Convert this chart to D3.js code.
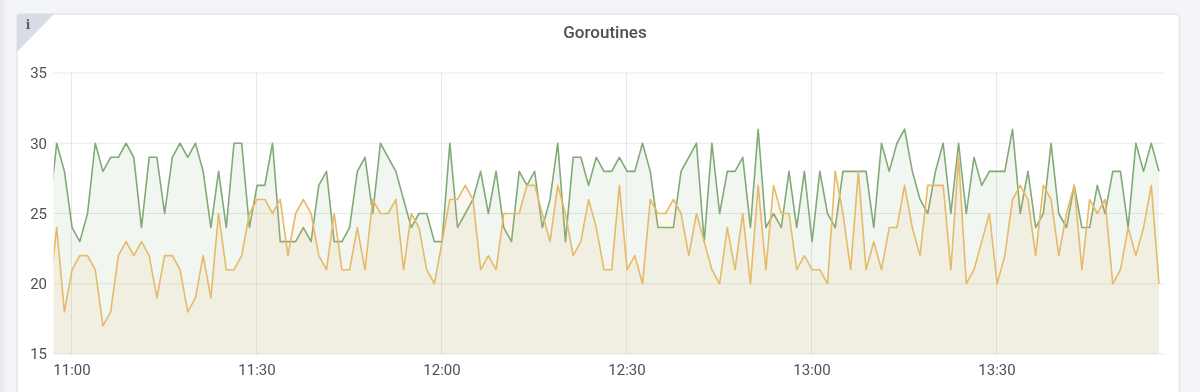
<!DOCTYPE html>
<html>
<head>
<meta charset="utf-8">
<script src="https://cdn.jsdelivr.net/npm/d3@7"></script>
<style>
html,body{margin:0;padding:0;background:#f4f5f8;overflow:hidden;}
#chart{display:block;width:1200px;height:392px;overflow:hidden;filter:blur(0.4px);}
text{font-family:Roboto,sans-serif;}
</style>
</head>
<body>
<svg id="chart" width="1200" height="392"></svg>
<script>
const goroutinesGreen = [25,30,28,24,23,25,30,28,29,29,30,29,24,29,29,25,29,30,29,30,28,24,28,24,30,30,24,27,27,30,23,23,
23,24,23,27,28,23,23,24,28,29,25,30,29,28,26,24,25,25,23,23,30,24,25,26,28,25,28,24,23,28,27,28,24,26,30,23,29,29,27,
29,28,28,29,28,28,30,28,24,24,24,28,29,30,23,30,25,28,28,29,24,31,24,25,24,28,24,28,23,28,25,24,28,28,28,28,24,30,28,
30,31,28,26,25,28,30,25,30,25,29,27,28,28,28,31,25,28,24,25,30,25,24,27,24,24,27,25,28,28,24,30,28,30,28];
const goroutinesOrange = [19,24,18,21,22,22,21,17,18,22,23,22,23,22,19,22,22,21,18,19,22,19,25,21,21,22,25,26,26,25,26,22,
25,26,25,22,21,25,21,21,24,21,26,25,25,26,21,25,24,21,20,23,26,26,27,26,21,22,21,25,25,25,27,27,25,23,27,25,22,23,26,
24,21,21,27,21,22,20,26,25,25,26,25,22,25,23,21,20,24,21,25,20,27,21,27,25,25,21,22,21,21,20,28,25,21,28,21,23,21,24,
24,27,24,22,27,27,27,21,29,20,21,23,25,20,22,26,27,26,22,27,26,22,25,27,21,26,25,26,20,21,24,22,24,27,20];
const yTickValues = [15,20,25,30,35];
const xTickLabels = ["11:00","11:30","12:00","12:30","13:00","13:30"];
const firstSample = "10:56:21";
const sampleSeconds = 75;
const colors = {green:"#80aa76", orange:"#e5ba68"};

const parse = d3.timeParse("%H:%M:%S");
const parseTick = d3.timeParse("%H:%M");
const t0 = parse(firstSample);
const times = goroutinesGreen.map((_, i) => d3.timeSecond.offset(t0, i * sampleSeconds));

const plotLeft = 53.7, plotRight = 1159, plotTop = 73, plotBottom = 354;
const x = d3.scaleTime()
  .domain([parseTick("11:00"), parseTick("13:30")])
  .range([71.5, 996.5]);
const y = d3.scaleLinear().domain([15,35]).range([plotBottom, plotTop]);

const svg = d3.select("#chart");
svg.append("rect").attr("width",1200).attr("height",392).attr("fill","#f4f5f8");
const defs = svg.append("defs");
const sg = defs.append("linearGradient").attr("id","side");
sg.append("stop").attr("offset",0).attr("stop-color","#e6e7ec");
sg.append("stop").attr("offset",1).attr("stop-color","#f4f5f8");
svg.append("rect").attr("x",0).attr("y",0).attr("width",8).attr("height",392).attr("fill","url(#side)");

const panel = svg.append("g");
panel.append("rect").attr("x",17).attr("y",14).attr("width",1162.5).attr("height",400)
  .attr("rx",3).attr("fill","#fff").attr("stroke","#e4e6ea").attr("stroke-width",1.5);
panel.append("path").attr("d","M17,52 L17,17 Q17,14 20,14 L54,14 Z").attr("fill","#d8dce5");
panel.append("text").attr("x",28).attr("y",29).attr("text-anchor","middle")
  .style("font-family","DejaVu Serif").attr("font-weight",700)
  .attr("font-size",12).attr("fill","#5a5d66").text("i");
panel.append("text").attr("x",605).attr("y",38).attr("text-anchor","middle")
  .attr("font-size",17).attr("font-weight",500).attr("fill","#4b5159").text("Goroutines");

svg.append("clipPath").attr("id","plot").append("rect")
  .attr("x",plotLeft).attr("y",plotTop-10).attr("width",plotRight-plotLeft+1).attr("height",plotBottom-plotTop+10);

const grid = svg.append("g").attr("stroke","#000").attr("stroke-opacity",0.085).attr("stroke-width",1);
grid.selectAll("line.h").data(yTickValues).join("line").attr("class","h")
  .attr("x1",plotLeft).attr("x2",1164)
  .attr("y1",d=>y(d)).attr("y2",d=>y(d));
grid.selectAll("line.v").data(xTickLabels).join("line").attr("class","v")
  .attr("x1",d=>x(parseTick(d))).attr("x2",d=>x(parseTick(d)))
  .attr("y1",plotTop).attr("y2",plotBottom);

const plot = svg.append("g").attr("clip-path","url(#plot)");
function draw(values, color, fillOpacity){
  const pts = values.map((v,i)=>[times[i],v]);
  plot.append("path").datum(pts).attr("fill",color).attr("fill-opacity",fillOpacity)
    .attr("d",d3.area().x(d=>x(d[0])).y0(plotBottom).y1(d=>y(d[1])));
  plot.append("path").datum(pts).attr("fill","none").attr("stroke",color).attr("stroke-width",1.6)
    .attr("stroke-linejoin","round")
    .attr("d",d3.line().x(d=>x(d[0])).y(d=>y(d[1])));
}
draw(goroutinesGreen, colors.green, 0.1);
draw(goroutinesOrange, colors.orange, 0.11);

const yAxis = d3.axisLeft(y).tickValues(yTickValues).tickSize(0).tickPadding(0).tickFormat(d3.format("d"));
const gy = svg.append("g").attr("transform","translate(47,0)").call(yAxis);
gy.select(".domain").remove();
gy.selectAll("text").attr("font-size",15).attr("fill","#4b5159").style("font-family","Roboto,sans-serif");

const xAxis = d3.axisBottom(x).tickValues(xTickLabels.map(parseTick)).tickSize(0).tickPadding(0).tickFormat(d3.timeFormat("%H:%M"));
const gx = svg.append("g").attr("transform","translate(0,364)").call(xAxis);
gx.select(".domain").remove();
gx.selectAll("text").attr("font-size",15).attr("fill","#4b5159").style("font-family","Roboto,sans-serif");
</script>
</body>
</html>
